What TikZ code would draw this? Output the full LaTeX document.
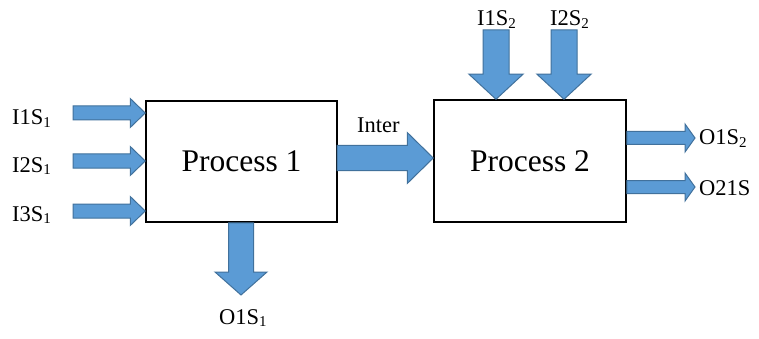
\documentclass[tikz,border=0pt]{standalone}
\usepackage{fontspec}
\setmainfont{Liberation Serif}
\usetikzlibrary{calc}
\definecolor{arrowfill}{HTML}{5B9BD5}
\definecolor{arrowline}{HTML}{41719C}
\tikzset{
  procbox/.style={draw=black, line width=1.5pt, fill=white, inner sep=0pt, font=\fontsize{31.5}{36}\selectfont},
  lbl/.style={inner sep=0pt, anchor=base west, font=\fontsize{22.5}{26}\selectfont},
  blockarrow/.style={fill=arrowfill, draw=arrowline, line width=1pt, line join=miter},
}
\newcommand\sbs[1]{\raisebox{-0.12em}{\fontsize{15}{17}\selectfont #1}}
\newcommand\blockarrow[5]{% #1 start, #2 tip, #3 body half, #4 head half, #5 head length
  \path ($(#2)!#5!(#1)$) coordinate (ba-c);
  \draw[blockarrow] ($(#1)!#3!90:(#2)$) -- ($(ba-c)!#3!-90:(#1)$) -- ($(ba-c)!#4!-90:(#1)$)
    -- (#2) -- ($(ba-c)!#4!90:(#1)$) -- ($(ba-c)!#3!90:(#1)$) -- ($(#1)!#3!-90:(#2)$) -- cycle;
}
\begin{document}
\begin{tikzpicture}[x=1pt,y=-1pt]
\useasboundingbox[fill=white] (0,0) rectangle (759,339);
% boxes
\node[procbox, minimum width=191pt, minimum height=121pt] (p1) at (241.5,161.5) {Process 1};
\node[procbox, minimum width=192pt, minimum height=122pt] (p2) at (530,161) {Process 2};
% start coordinates
\coordinate (s1) at (73,113);
\coordinate (s2) at (73,161);
\coordinate (s3) at (73,211);
\coordinate (si) at (337,158);
\coordinate (t1) at (496,30);
\coordinate (t2) at (564,30);
\coordinate (o1) at (695,138);
\coordinate (o2) at (695,187);
\coordinate (ob) at (241,295);
% left inputs
\blockarrow{s1}{p1.west |- s1}{7pt}{14.5pt}{15pt}
\blockarrow{s2}{p1.west |- s2}{7pt}{14.5pt}{15pt}
\blockarrow{s3}{p1.west |- s3}{7pt}{14.5pt}{15pt}
% inter
\blockarrow{si}{p2.west |- si}{12.5pt}{25.5pt}{26pt}
% top inputs
\blockarrow{t1}{p2.north -| t1}{13pt}{27pt}{25pt}
\blockarrow{t2}{p2.north -| t2}{13pt}{27pt}{25pt}
% right outputs
\blockarrow{p2.east |- o1}{o1}{6.5pt}{14pt}{10pt}
\blockarrow{p2.east |- o2}{o2}{6.5pt}{14pt}{10pt}
% bottom output
\blockarrow{p1.south -| ob}{ob}{12.5pt}{26pt}{23pt}
% labels
\node[lbl] (l1) at (12,125) {I1S\sbs{1}};
\node[lbl] (l2) at (12,172) {I2S\sbs{1}};
\node[lbl] (l3) at (12,221) {I3S\sbs{1}};
\node[lbl] (li) at (357,133) {Inter};
\node[lbl] (lt1) at (477,26) {I1S\sbs{2}};
\node[lbl] (lt2) at (550,26) {I2S\sbs{2}};
\node[lbl] (lo1) at (699,145) {O1S\sbs{2}};
\node[lbl] (lo2) at (699,195) {O21S};
\node[lbl] (lob) at (219,324) {O1S\sbs{1}};
\end{tikzpicture}
\end{document}
